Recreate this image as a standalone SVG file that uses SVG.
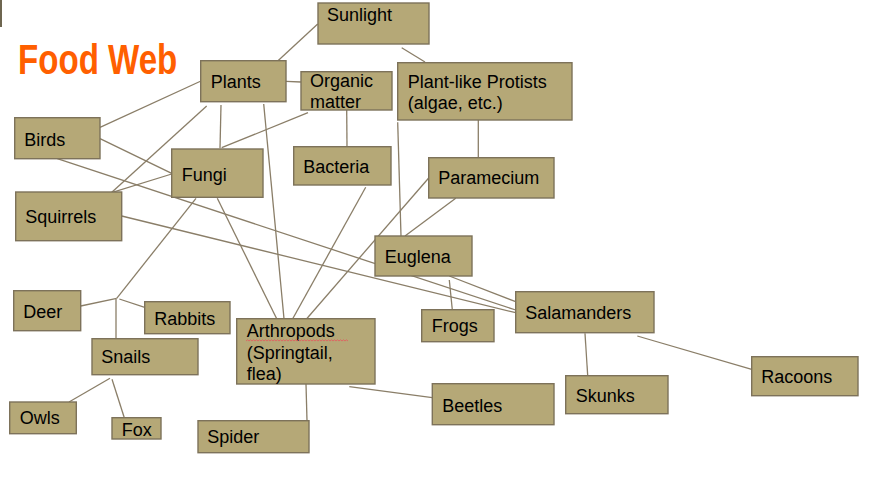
<svg xmlns="http://www.w3.org/2000/svg" width="872" height="479" viewBox="0 0 872 479">
<style>
.bg{fill:#ffffff}
.box{fill:#B5A877;stroke:#7D725A;stroke-width:1.4}
.lbl{font-family:"Liberation Sans",Arial,sans-serif;font-size:18px;fill:#000000}
.title{font-family:"Liberation Sans",Arial,sans-serif;font-weight:bold;font-size:43px;fill:#FF5F00}
#connectors line{stroke:#8A7E68;stroke-width:1.3;fill:none}
.squig{stroke:#E06060;stroke-width:0.9;fill:none}
</style>
<rect class="bg" x="0" y="0" width="872" height="479"/>
<rect x="0" y="0" width="2" height="27" fill="#6E6650"/>
<text class="title" transform="translate(18,74) scale(0.77,1)" x="0" y="0">Food Web</text>
<g id="connectors">
<line x1="275.3" y1="63.3" x2="317.7" y2="24"/>
<line x1="286" y1="81.3" x2="301" y2="82"/>
<line x1="401.7" y1="47.7" x2="425" y2="62"/>
<line x1="201" y1="81" x2="100" y2="127.3"/>
<line x1="100" y1="138.7" x2="171.7" y2="173.3"/>
<line x1="206.7" y1="106" x2="111" y2="193"/>
<line x1="221" y1="105" x2="220" y2="148.3"/>
<line x1="308" y1="112.7" x2="221.7" y2="147.7"/>
<line x1="346.7" y1="109.3" x2="347" y2="146.7"/>
<line x1="171.7" y1="174" x2="108.3" y2="193.7"/>
<line x1="263.7" y1="104" x2="284" y2="318.7"/>
<line x1="217.3" y1="198.3" x2="276.7" y2="318.7"/>
<line x1="196" y1="198.3" x2="116.7" y2="298.3"/>
<line x1="116.7" y1="298.3" x2="80.7" y2="306"/>
<line x1="119.3" y1="299" x2="144.7" y2="307.3"/>
<line x1="116" y1="299" x2="116" y2="338.7"/>
<line x1="57.3" y1="158.7" x2="515.7" y2="310"/>
<line x1="121.7" y1="216" x2="515.7" y2="312.7"/>
<line x1="365.7" y1="187.3" x2="292.7" y2="318.7"/>
<line x1="428.7" y1="178" x2="306.7" y2="318.7"/>
<line x1="478.3" y1="120" x2="478.3" y2="157.7"/>
<line x1="397.7" y1="122.3" x2="401" y2="236"/>
<line x1="455.7" y1="198.3" x2="405" y2="236"/>
<line x1="449.3" y1="280" x2="452.3" y2="309.7"/>
<line x1="449.3" y1="276" x2="515.7" y2="301.7"/>
<line x1="585" y1="333.3" x2="587.7" y2="375.7"/>
<line x1="637.3" y1="336" x2="751.7" y2="369.3"/>
<line x1="349.3" y1="386.7" x2="432.3" y2="397.7"/>
<line x1="306" y1="384" x2="307" y2="420.7"/>
<line x1="110" y1="378.3" x2="69" y2="402"/>
<line x1="112" y1="379.3" x2="124.3" y2="417.7"/>
</g>
<g id="sunlight"><rect class="box" x="318" y="3" width="111" height="41"/><text class="lbl" x="327" y="21">Sunlight</text></g>
<g id="plants"><rect class="box" x="200.7" y="60.7" width="85.3" height="41"/><text class="lbl" x="210.7" y="88">Plants</text></g>
<g id="organic-matter"><rect class="box" x="301" y="71.7" width="91" height="38.3"/><text class="lbl" x="310" y="87">Organic</text><text class="lbl" x="310" y="108">matter</text></g>
<g id="protists"><rect class="box" x="397.7" y="62.7" width="174.3" height="57.3"/><text class="lbl" x="407.7" y="88">Plant-like Protists</text><text class="lbl" x="407.7" y="108.5">(algae, etc.)</text></g>
<g id="birds"><rect class="box" x="14.7" y="117.7" width="85.3" height="41"/><text class="lbl" x="24.3" y="145.7">Birds</text></g>
<g id="fungi"><rect class="box" x="171.7" y="149" width="91.3" height="48.3"/><text class="lbl" x="181.7" y="180.7">Fungi</text></g>
<g id="bacteria"><rect class="box" x="293.7" y="146.7" width="97.3" height="38.3"/><text class="lbl" x="303.3" y="172.7">Bacteria</text></g>
<g id="paramecium"><rect class="box" x="428.7" y="157.7" width="125.3" height="40.3"/><text class="lbl" x="438.3" y="184.3">Paramecium</text></g>
<g id="squirrels"><rect class="box" x="15.7" y="192" width="106" height="48.7"/><text class="lbl" x="25.3" y="223.3">Squirrels</text></g>
<g id="euglena"><rect class="box" x="375" y="236" width="97" height="40"/><text class="lbl" x="384.7" y="262.7">Euglena</text></g>
<g id="deer"><rect class="box" x="13.7" y="290.7" width="67" height="40"/><text class="lbl" x="23.3" y="317.7">Deer</text></g>
<g id="rabbits"><rect class="box" x="144.7" y="301.7" width="85.3" height="32"/><text class="lbl" x="154.3" y="325">Rabbits</text></g>
<g id="snails"><rect class="box" x="92" y="338.7" width="106" height="36"/><text class="lbl" x="101.3" y="363.3">Snails</text></g>
<g id="arthropods"><rect class="box" x="236.7" y="318.7" width="138.3" height="65.3"/><text class="lbl" x="246.7" y="336.5">Arthropods</text><text class="lbl" x="246.7" y="358.5">(Springtail,</text><text class="lbl" x="246.7" y="380">flea)</text>
<path class="squig" d="M246 341 l1.5 -1.2 l1.5 1.2 l1.5 -1.2 l1.5 1.2 l1.5 -1.2 l1.5 1.2 l1.5 -1.2 l1.5 1.2 l1.5 -1.2 l1.5 1.2 l1.5 -1.2 l1.5 1.2 l1.5 -1.2 l1.5 1.2 l1.5 -1.2 l1.5 1.2 l1.5 -1.2 l1.5 1.2 l1.5 -1.2 l1.5 1.2 l1.5 -1.2 l1.5 1.2 l1.5 -1.2 l1.5 1.2 l1.5 -1.2 l1.5 1.2 l1.5 -1.2 l1.5 1.2 l1.5 -1.2 l1.5 1.2 l1.5 -1.2 l1.5 1.2 l1.5 -1.2 l1.5 1.2 l1.5 -1.2 l1.5 1.2 l1.5 -1.2 l1.5 1.2 l1.5 -1.2 l1.5 1.2 l1.5 -1.2 l1.5 1.2 l1.5 -1.2 l1.5 1.2 l1.5 -1.2 l1.5 1.2 l1.5 -1.2 l1.5 1.2 l1.5 -1.2 l1.5 1.2 l1.5 -1.2 l1.5 1.2 l1.5 -1.2 l1.5 1.2 l1.5 -1.2 l1.5 1.2 l1.5 -1.2 l1.5 1.2 l1.5 -1.2 l1.5 1.2 l1.5 -1.2 l1.5 1.2 l1.5 -1.2 l1.5 1.2 l1.5 -1.2 l1.5 1.2 l1.5 -1.2 l1.5 1.2"/></g>
<g id="frogs"><rect class="box" x="421.7" y="309.7" width="72.3" height="32"/><text class="lbl" x="431.7" y="332.3">Frogs</text></g>
<g id="salamanders"><rect class="box" x="515.7" y="291.7" width="138.3" height="41"/><text class="lbl" x="525.3" y="319.3">Salamanders</text></g>
<g id="skunks"><rect class="box" x="565.7" y="375.7" width="102.3" height="38"/><text class="lbl" x="575.7" y="401.7">Skunks</text></g>
<g id="racoons"><rect class="box" x="751.7" y="356.7" width="106.3" height="39"/><text class="lbl" x="761.3" y="383.3">Racoons</text></g>
<g id="beetles"><rect class="box" x="432.3" y="383.7" width="121.7" height="41"/><text class="lbl" x="442.3" y="411.7">Beetles</text></g>
<g id="owls"><rect class="box" x="9.7" y="402" width="66.6" height="31.7"/><text class="lbl" x="19.7" y="424.3">Owls</text></g>
<g id="fox"><rect class="box" x="112" y="417.7" width="49" height="21.3"/><text class="lbl" x="121.7" y="435.7">Fox</text></g>
<g id="spider"><rect class="box" x="198" y="420.7" width="111" height="32"/><text class="lbl" x="207.3" y="443.3">Spider</text></g>
</svg>
